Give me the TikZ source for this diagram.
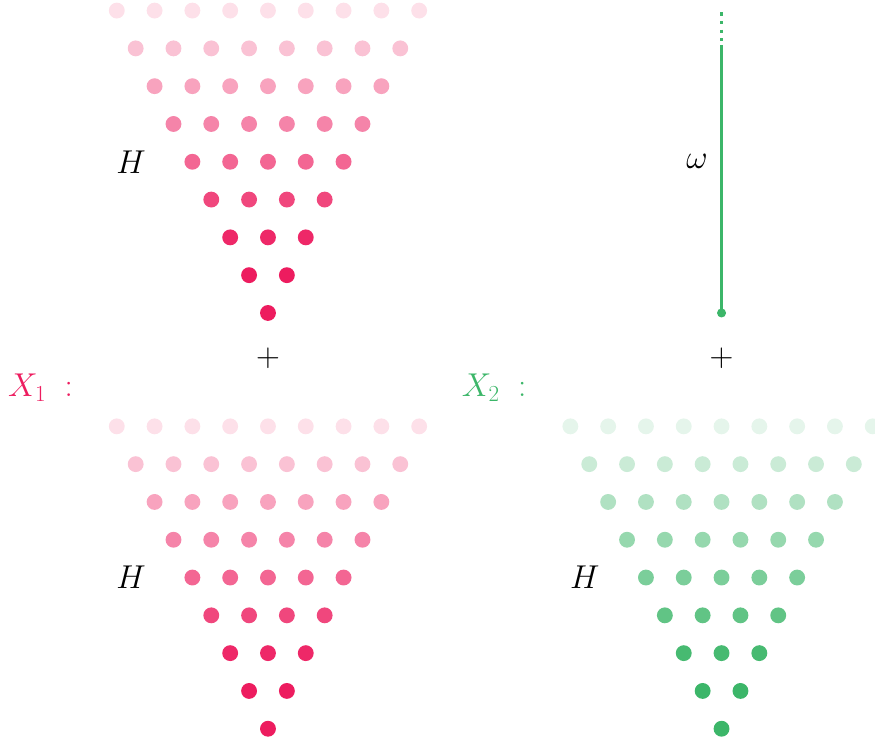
\documentclass[tikz,border=0pt]{standalone}
\usepackage{amsmath}
\usepackage{tikz}
\usetikzlibrary{positioning}
\definecolor{hpink}{RGB}{237,28,95}
\definecolor{hgreen}{RGB}{60,182,105}

\begin{document}
\begin{tikzpicture}[
  font=\fontsize{23}{28}\selectfont,
  dot/.style={circle, inner sep=0pt, minimum size=4.2mm},
  lbl/.style={inner sep=0pt},
  wline/.style={line width=2pt, draw=hgreen},
]
\useasboundingbox (-7.09,-11.46) rectangle (16.06,8.28);
% ---------------- top left: H (pink) ----------------
\begin{scope}
  \foreach \i in {0,...,8}{
    \pgfmathsetmacro\sh{min(100,(9-\i)*13.5)}
    \foreach \j in {0,...,\i}
      \node[dot, fill=hpink!\sh!white] (ha-\i-\j) at ({\j-\i/2},\i) {};
  }
  \node[lbl] (hA) at (-3.62,4) {$H$};
  \node[lbl] (plusA) at (0,-1.19) {$+$};
\end{scope}
% ---------------- top right: omega line (green) ----------------
\begin{scope}[xshift=12cm]
  \node[dot, minimum size=2.4mm, fill=hgreen] (w0) at (0,0) {};
  \coordinate (w1) at (0,7.1);
  \coordinate (w2) at (0,7.95);
  \draw[wline] (w0.center) -- (w1);
  \draw[wline, dash pattern=on 2.3pt off 4.2pt] (w2) -- (w1);
  \node[lbl] (om) at (-0.65,4) {$\omega$};
  \node[lbl] (plusB) at (0,-1.19) {$+$};
\end{scope}
% ---------------- X1 / X2 labels ----------------
\node[lbl, anchor=base west, text=hpink] (x1) at (-6.88,-2.22) {$X_1\;:$};
\node[lbl, anchor=base west, text=hgreen] (x2) at (5.12,-2.22) {$X_2\;:$};
% ---------------- bottom left: H (pink) ----------------
\begin{scope}[yshift=-11cm]
  \foreach \i in {0,...,8}{
    \pgfmathsetmacro\sh{min(100,(9-\i)*13.5)}
    \foreach \j in {0,...,\i}
      \node[dot, fill=hpink!\sh!white] (hb-\i-\j) at ({\j-\i/2},\i) {};
  }
  \node[lbl] (hB) at (-3.62,4) {$H$};
\end{scope}
% ---------------- bottom right: H (green) ----------------
\begin{scope}[xshift=12cm, yshift=-11cm]
  \foreach \i in {0,...,8}{
    \pgfmathsetmacro\sh{min(100,(9-\i)*13.5)}
    \foreach \j in {0,...,\i}
      \node[dot, fill=hgreen!\sh!white] (hc-\i-\j) at ({\j-\i/2},\i) {};
  }
  \node[lbl] (hC) at (-3.62,4) {$H$};
\end{scope}
\end{tikzpicture}
\end{document}
